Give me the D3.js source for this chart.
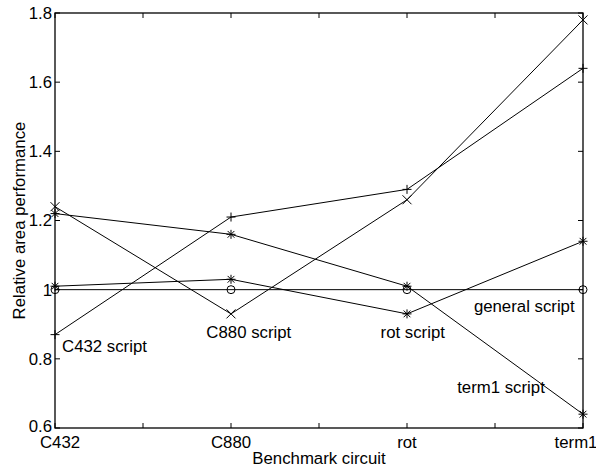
<!DOCTYPE html>
<html><head><meta charset="utf-8">
<script src="https://cdn.jsdelivr.net/npm/d3@7"></script>
<style>body{margin:0;background:#fff}svg{display:block}text{font-family:"Liberation Sans",Arial,sans-serif;fill:#000}</style>
</head><body><svg id="c" width="596" height="467"></svg>
<script>
const categories = ["C432", "C880", "rot", "term1"];
const yTicks = [0.6, 0.8, 1.0, 1.2, 1.4, 1.6, 1.8];
const yTickLabels = ["0.6", "0.8", "1", "1.2", "1.4", "1.6", "1.8"];
const generalScript = [1.00, 1.00, 1.00, 1.00];
const c432Script = [0.87, 1.21, 1.29, 1.64];
const c880Script = [1.24, 0.93, 1.26, 1.78];
const rotScript = [1.01, 1.03, 0.93, 1.14];
const term1Script = [1.22, 1.16, 1.01, 0.64];
const seriesNames = ["general script", "C432 script", "C880 script", "rot script", "term1 script"];
const seriesMarkers = ["o", "+", "x", "*", "*"];
const seriesValues = [generalScript, c432Script, c880Script, rotScript, term1Script];
// label anchors (category index, value)
const labelX = [3.38, 1.04, 1.86, 2.85, 3.285];
const labelY = [0.935, 0.82, 0.86, 0.86, 0.70];

const L = 55, R = 583, T = 13, B = 428;
const svg = d3.select("#c");
const x = d3.scaleLinear().domain([1, 4]).range([L, R]);
const y = d3.scaleLinear().domain([0.6, 1.8]).range([B, T]);
const FS = 16.8;

// box
svg.append("rect").attr("x", L).attr("y", T).attr("width", R - L).attr("height", B - T)
  .attr("fill", "none").attr("stroke", "#000").attr("stroke-width", 1.3);

// x ticks (inward, top & bottom)
const xt = d3.range(1, 4.01, 0.5);
const tl = 5;
xt.forEach(v => {
  svg.append("line").attr("x1", x(v)).attr("x2", x(v)).attr("y1", B).attr("y2", B - tl).attr("stroke", "#000");
  svg.append("line").attr("x1", x(v)).attr("x2", x(v)).attr("y1", T).attr("y2", T + tl).attr("stroke", "#000");
});
yTicks.forEach(v => {
  svg.append("line").attr("x1", L).attr("x2", L + tl).attr("y1", y(v)).attr("y2", y(v)).attr("stroke", "#000");
  svg.append("line").attr("x1", R).attr("x2", R - tl).attr("y1", y(v)).attr("y2", y(v)).attr("stroke", "#000");
});
// y tick labels
yTicks.forEach((v, i) => {
  svg.append("text").attr("x", L - 3).attr("y", y(v) - (i === 0 ? 2 : 0)).attr("dy", "0.35em")
    .attr("text-anchor", "end").attr("font-size", FS).text(yTickLabels[i]);
});
// x tick labels
const xShift = [5, 0, 0, -7];
categories.forEach((c, i) => {
  svg.append("text").attr("x", x(i + 1) + xShift[i]).attr("y", 448)
    .attr("text-anchor", "middle").attr("font-size", FS).text(c);
});
// axis titles
svg.append("text").attr("x", (L + R) / 2).attr("y", 464).attr("text-anchor", "middle")
  .attr("font-size", FS).text("Benchmark circuit");
svg.append("text").attr("transform", `translate(25,${(T + B) / 2}) rotate(-90)`)
  .attr("text-anchor", "middle").attr("font-size", FS).text("Relative area performance");

// lines
const line = d3.line().x((d, i) => x(i + 1)).y(d => y(d));
const g = svg.append("g");
seriesValues.forEach((vals, s) => {
  g.append("path").attr("d", line(vals)).attr("fill", "none").attr("stroke", "#000").attr("stroke-width", 1);
  vals.forEach((v, i) => {
    const cx = x(i + 1), cy = y(v), m = seriesMarkers[s], r = 4.5;
    if (m === "o") {
      g.append("circle").attr("cx", cx).attr("cy", cy).attr("r", 4).attr("fill", "none").attr("stroke", "#000");
    }
    if (m === "+" || m === "*") {
      g.append("path").attr("d", `M${cx - r},${cy}H${cx + r}M${cx},${cy - r}V${cy + r}`).attr("stroke", "#000").attr("fill", "none");
    }
    if (m === "x" || m === "*") {
      const k = m === "*" ? r * 0.75 : r;
      g.append("path").attr("d", `M${cx - k},${cy - k}L${cx + k},${cy + k}M${cx - k},${cy + k}L${cx + k},${cy - k}`).attr("stroke", "#000").attr("fill", "none");
    }
  });
});
// series labels
seriesNames.forEach((n, s) => {
  svg.append("text").attr("x", x(labelX[s])).attr("y", y(labelY[s])).attr("font-size", FS).text(n);
});
</script></body></html>
